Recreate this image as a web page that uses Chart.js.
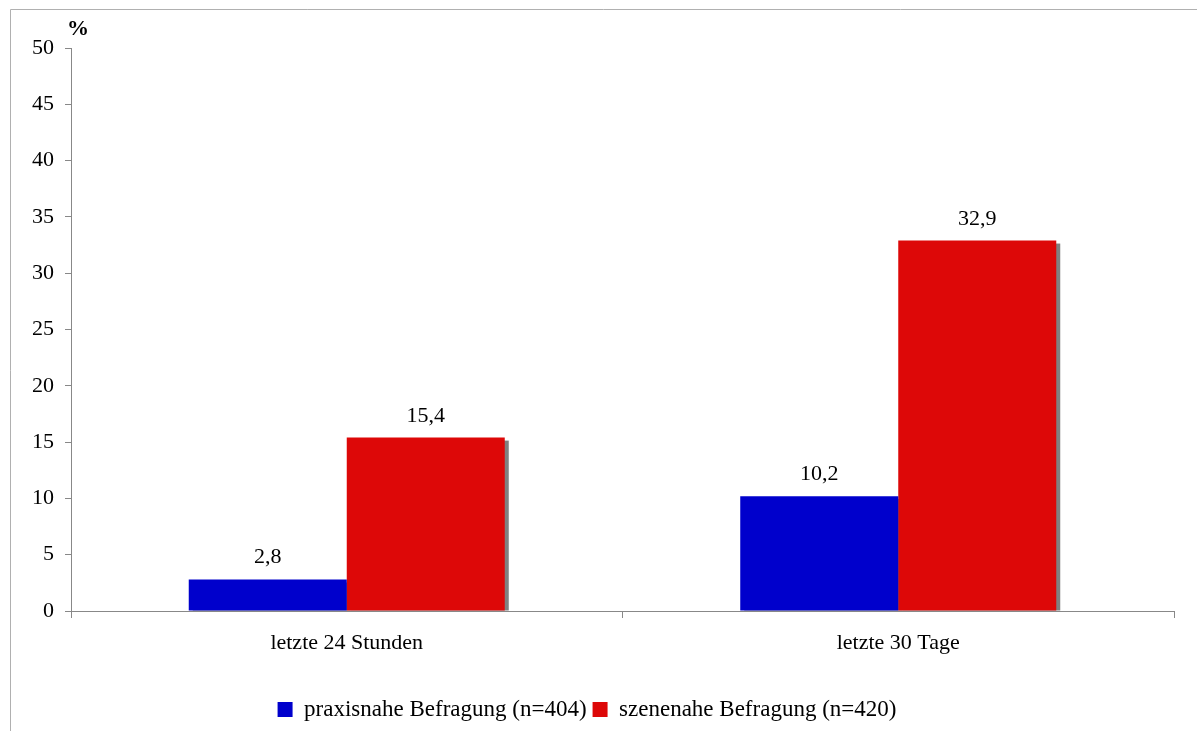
<!DOCTYPE html>
<html>
<head>
<meta charset="utf-8">
<script src="https://cdn.jsdelivr.net/npm/chart.js@4"></script>
<style>
  html, body { margin: 0; padding: 0; background: #fff; }
  #wrap { width: 1197px; height: 731px; position: relative; }
</style>
</head>
<body>
<div id="wrap"><canvas id="c" width="1197" height="731"></canvas></div>
<script>
var categories = ['letzte 24 Stunden', 'letzte 30 Tage'];
var praxisnahe = [2.8, 10.2];
var szenenahe = [15.4, 32.9];
var seriesNames = ['praxisnahe Befragung (n=404)', 'szenenahe Befragung (n=420)'];
var yTicks = [0, 5, 10, 15, 20, 25, 30, 35, 40, 45, 50];

var FONT = "'Liberation Serif', 'Times New Roman', serif";
var AXIS = '#888888';

// frame, gray bar shadow, value labels and % label
var decorPlugin = {
    id: 'decor',
    beforeDraw: function (chart) {
        var ctx = chart.ctx;
        ctx.save();
        ctx.strokeStyle = '#b0b0b0';
        ctx.lineWidth = 1;
        ctx.beginPath();
        ctx.moveTo(10.5, 731);
        ctx.lineTo(10.5, 9.5);
        ctx.lineTo(1197, 9.5);
        ctx.stroke();
        ctx.restore();
    },
    beforeDatasetsDraw: function (chart) {
        var ctx = chart.ctx;
        ctx.save();
        ctx.fillStyle = '#808080';
        chart.data.datasets.forEach(function (ds, i) {
            chart.getDatasetMeta(i).data.forEach(function (bar) {
                var left = bar.x - bar.width / 2;
                ctx.fillRect(left + 4, bar.y + 3, bar.width, bar.base - bar.y - 3);
            });
        });
        ctx.restore();
    },
    afterDatasetsDraw: function (chart) {
        var ctx = chart.ctx;
        ctx.save();
        ctx.fillStyle = '#000';
        ctx.font = '22px ' + FONT;
        ctx.textAlign = 'center';
        ctx.textBaseline = 'alphabetic';
        chart.data.datasets.forEach(function (ds, i) {
            chart.getDatasetMeta(i).data.forEach(function (bar, j) {
                var txt = ds.data[j].toFixed(1).replace('.', ',');
                ctx.fillText(txt, bar.x, bar.y - 16);
            });
        });
        ctx.font = 'bold 22px ' + FONT;
        ctx.textAlign = 'left';
        ctx.fillText('%', 67, 35);
        ctx.restore();
    }
};

new Chart(document.getElementById('c').getContext('2d'), {
    type: 'bar',
    data: {
        labels: categories,
        datasets: [{
            label: seriesNames[0],
            data: praxisnahe,
            backgroundColor: '#0000cc'
        }, {
            label: seriesNames[1],
            data: szenenahe,
            backgroundColor: '#dd0808'
        }]
    },
    options: {
        responsive: false,
        animation: false,
        layout: { padding: { top: 48, right: 23, left: 0, bottom: 0 } },
        datasets: { bar: { barPercentage: 1, categoryPercentage: 0.573 } },
        plugins: {
            legend: {
                position: 'bottom',
                labels: {
                    font: { family: FONT, size: 23 },
                    color: '#000',
                    boxWidth: 15,
                    boxHeight: 15,
                    padding: 6
                }
            },
            tooltip: { enabled: false }
        },
        scales: {
            x: {
                offset: true,
                grid: { offset: true, drawOnChartArea: false, drawTicks: true, tickLength: 7, color: AXIS },
                border: { color: AXIS },
                ticks: { font: { family: FONT, size: 22 }, color: '#000', padding: 12 },
                afterFit: function (s) { s.height = 81; }
            },
            y: {
                min: 0,
                max: 50,
                afterBuildTicks: function (s) { s.ticks = yTicks.map(function (v) { return { value: v }; }); },
                grid: { drawOnChartArea: false, drawTicks: true, tickLength: 6, color: AXIS },
                border: { color: AXIS },
                ticks: { font: { family: FONT, size: 22 }, color: '#000', padding: 11 },
                afterFit: function (s) { s.width = 71; }
            }
        }
    },
    plugins: [decorPlugin]
});
</script>
</body>
</html>
